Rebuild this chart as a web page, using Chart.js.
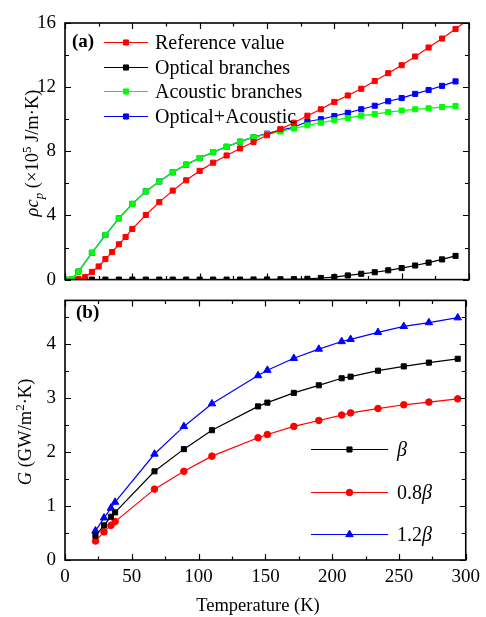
<!DOCTYPE html>
<html>
<head>
<meta charset="utf-8">
<script src="https://cdn.jsdelivr.net/npm/chart.js@4.4.0/dist/chart.umd.min.js"></script>
<style>
  html, body { margin: 0; padding: 0; background: #fff; }
  #wrap { position: relative; width: 486px; height: 617px; }
  #wrap canvas { position: absolute; left: 0; }
  #heat { top: 0; }
  #cond { top: 280px; }
</style>
</head>
<body>
<div id="wrap">
  <canvas id="heat" width="486" height="300"></canvas>
  <canvas id="cond" width="486" height="337"></canvas>
</div>
<script>
// (a) volumetric heat capacity, 10^5 J/m^3K
const tempRef = [10, 15, 20, 25, 30, 35, 40, 45, 50, 60, 70, 80, 90, 100, 110, 120, 130, 140, 150,
  160, 170, 180, 190, 200, 210, 220, 230, 240, 250, 260, 270, 280, 290, 300];
const cpRef = [0.04, 0.16, 0.48, 0.82, 1.28, 1.72, 2.2, 2.66, 3.16, 4.03, 4.83, 5.55, 6.19, 6.78, 7.29, 7.74, 8.18, 8.58, 9.0,
  9.38, 9.78, 10.22, 10.62, 11.08, 11.48, 11.9, 12.38, 12.87, 13.37, 13.91, 14.47, 15.03, 15.63, 16.25];

const tempOpt = [10, 20, 30, 40, 50, 60, 70, 80, 90, 100, 110, 120, 130, 140, 150,
  160, 170, 180, 190, 200, 210, 220, 230, 240, 250, 260, 270, 280, 290];
const cpOpt = [0, 0, 0, 0, 0, 0, 0, 0, 0, 0, 0, 0, 0, 0.01, 0.01,
  0.02, 0.03, 0.05, 0.1, 0.16, 0.26, 0.36, 0.46, 0.58, 0.72, 0.88, 1.06, 1.26, 1.48];

const tempAco = [0, 5, 10, 20, 30, 40, 50, 60, 70, 80, 90, 100, 110, 120, 130, 140, 150,
  160, 170, 180, 190, 200, 210, 220, 230, 240, 250, 260, 270, 280, 290];
const cpAco = [0, 0.03, 0.5, 1.67, 2.78, 3.82, 4.72, 5.5, 6.12, 6.69, 7.17, 7.58, 7.95, 8.28, 8.6, 8.88, 9.06,
  9.24, 9.42, 9.62, 9.78, 9.94, 10.08, 10.22, 10.32, 10.44, 10.54, 10.62, 10.68, 10.76, 10.82];
// optical + acoustic, sampled at the acoustic temperatures
const cpSum = [0, 0.03, 0.5, 1.67, 2.78, 3.82, 4.72, 5.5, 6.12, 6.69, 7.17, 7.58, 7.95, 8.28, 8.6, 8.88, 9.1,
  9.32, 9.5, 9.86, 10.0, 10.2, 10.4, 10.62, 10.84, 11.12, 11.32, 11.58, 11.82, 12.08, 12.36];

const heatLabels = ['Reference value', 'Optical branches', 'Acoustic branches', 'Optical+Acoustic'];

// (b) interfacial thermal conductance, GW/m^2K
const tempG = [22.8, 29.2, 34.4, 37.5, 67, 89, 110, 144.5, 151.5, 171.3, 190, 207.1, 213.8, 234.3, 253.6, 272.4, 294];
const gBeta = [0.45, 0.64, 0.8, 0.88, 1.64, 2.05, 2.4, 2.84, 2.91, 3.09, 3.23, 3.36, 3.39, 3.5, 3.58, 3.65, 3.72];
const g08 = [0.35, 0.52, 0.64, 0.71, 1.31, 1.64, 1.92, 2.26, 2.32, 2.47, 2.58, 2.68, 2.72, 2.8, 2.87, 2.92, 2.98];
const g12 = [0.54, 0.78, 0.96, 1.07, 1.96, 2.47, 2.89, 3.41, 3.51, 3.73, 3.9, 4.04, 4.08, 4.21, 4.32, 4.39, 4.48];

const condLabels = ['β', '0.8β', '1.2β'];

const SERIF = '"Liberation Serif", "Times New Roman", serif';
const pts = (xs, ys) => xs.map((x, i) => ({x: x, y: ys[i]}));

// draw a run of text pieces: [text, font, dy]
function drawParts(ctx, parts, x, y, align) {
  let w = 0;
  parts.forEach(p => { ctx.font = p[1]; w += ctx.measureText(p[0]).width; });
  let cx = align === 'center' ? x - w / 2 : x;
  parts.forEach(p => {
    ctx.font = p[1];
    ctx.fillText(p[0], cx, y + (p[2] || 0));
    cx += ctx.measureText(p[0]).width;
  });
}

// β is always set in italics
function richLabel(s, size) {
  const out = [];
  s.split(/(β)/).forEach(t => {
    if (!t) return;
    out.push([t, (t === 'β' ? 'italic ' : '') + size + 'px ' + SERIF]);
  });
  return out;
}

// frame, inward ticks, legend, axis titles and panel tag
const panelDecor = {
  id: 'panelDecor',
  afterDraw(chart, args, o) {
    const ctx = chart.ctx, a = chart.chartArea;
    const xs = chart.scales.x, ys = chart.scales.y;
    ctx.save();
    ctx.strokeStyle = '#000';
    ctx.fillStyle = '#000';
    ctx.lineWidth = 1.2;
    ctx.beginPath();
    for (let v = xs.min; v <= xs.max + 1e-9; v += o.xMinor) {
      const p = Math.round(xs.getPixelForValue(v)) + 0.5;
      const len = Math.abs(v % o.xMajor) < 1e-9 ? 6 : 3.5;
      ctx.moveTo(p, a.bottom); ctx.lineTo(p, a.bottom - len);
      ctx.moveTo(p, a.top); ctx.lineTo(p, a.top + len);
    }
    for (let v = ys.min; v <= ys.max + 1e-9; v += o.yMinor) {
      const p = Math.round(ys.getPixelForValue(v)) + 0.5;
      const len = Math.abs(v % o.yMajor) < 1e-9 ? 6 : 4;
      ctx.moveTo(a.left, p); ctx.lineTo(a.left + len, p);
      ctx.moveTo(a.right, p); ctx.lineTo(a.right - len, p);
    }
    ctx.stroke();
    ctx.lineWidth = 1.6;
    ctx.strokeRect(a.left, a.top, a.right - a.left, a.bottom - a.top);

    // legend rows
    const lg = o.legend;
    chart.data.datasets.forEach((ds, i) => {
      const y = Math.round(lg.y0 + i * lg.dy) + 0.5;
      ctx.strokeStyle = ds.borderColor;
      ctx.fillStyle = ds.borderColor;
      ctx.lineWidth = 1;
      ctx.beginPath();
      ctx.moveTo(lg.x0, y); ctx.lineTo(lg.x1, y);
      ctx.stroke();
      Chart.helpers.drawPoint(ctx, {pointStyle: ds.pointStyle, radius: ds.pointRadius, rotation: 0, borderWidth: 1},
        (lg.x0 + lg.x1) / 2, y);
      ctx.fillStyle = '#000';
      ctx.textBaseline = 'middle';
      drawParts(ctx, richLabel(ds.label, lg.size), lg.tx, y + 1, 'left');
    });

    // panel tag
    ctx.font = 'bold 19px ' + SERIF;
    ctx.textBaseline = 'middle';
    ctx.fillText(o.tag[0], o.tag[1], o.tag[2]);

    // x axis title
    if (o.xTitle) {
      ctx.font = '18.5px ' + SERIF;
      ctx.textAlign = 'center';
      ctx.fillText(o.xTitle[0], o.xTitle[1], o.xTitle[2]);
      ctx.textAlign = 'left';
    }

    // y axis title, reading bottom to top
    ctx.translate(o.titleX, o.titleY);
    ctx.rotate(-Math.PI / 2);
    ctx.textBaseline = 'alphabetic';
    drawParts(ctx, o.title, 0, 0, 'center');
    ctx.restore();
  }
};

function options(cfg) {
  return {
    responsive: false,
    animation: false,
    devicePixelRatio: 1,
    events: [],
    layout: {padding: {left: 0, right: 17, top: cfg.padTop, bottom: 0}},
    plugins: {legend: {display: false}, tooltip: {enabled: false}, panelDecor: cfg.decor},
    scales: {
      x: {
        type: 'linear', min: 0, max: 300,
        grid: {display: false, drawTicks: false},
        border: {display: false},
        ticks: {display: cfg.xLabels, stepSize: 50, padding: 6, maxRotation: 0, color: '#000',
          font: {family: SERIF, size: 19}},
        afterFit: s => { s.height = cfg.xHeight; }
      },
      y: {
        min: 0, max: cfg.yMax,
        grid: {display: false, drawTicks: false},
        border: {display: false},
        ticks: {stepSize: cfg.yStep, includeBounds: false, padding: 9, color: '#000',
          font: {family: SERIF, size: 19}},
        afterFit: s => { s.width = 65; }
      }
    }
  };
}

function series(label, xs, ys, color, style, r) {
  return {
    label: label, data: pts(xs, ys),
    borderColor: color, backgroundColor: color,
    pointBackgroundColor: color, pointBorderColor: color,
    borderWidth: 1.2, pointStyle: style, pointRadius: r, pointBorderWidth: 1
  };
}

const it = s => 'italic ' + s + 'px ' + SERIF;
const rm = s => s + 'px ' + SERIF;

new Chart(document.getElementById('heat'), {
  type: 'line',
  data: {
    datasets: [
      series(heatLabels[0], tempRef, cpRef, '#ff0000', 'rect', 3.6),
      series(heatLabels[1], tempOpt, cpOpt, '#000000', 'rect', 3.6),
      series(heatLabels[2], tempAco, cpAco, '#00ff00', 'rect', 3.6),
      series(heatLabels[3], tempAco, cpSum, '#0000ff', 'rect', 3.6)
    ]
  },
  options: options({
    padTop: 23, xHeight: 10, xLabels: false, yMax: 16, yStep: 4,
    decor: {
      xMinor: 25, xMajor: 50, yMinor: 2, yMajor: 4,
      legend: {x0: 104, x1: 148, tx: 155, y0: 42, dy: 24.5, size: 20},
      tag: ['(a)', 72, 42],
      titleX: 38, titleY: 153,
      title: [['ρc', it(18.5)], ['p', it(13), 5], [' (×10', rm(18.5)], ['5', rm(13), -7], [' J/m·K)', rm(18.5)]]
    }
  }),
  plugins: [panelDecor]
});

new Chart(document.getElementById('cond'), {
  type: 'line',
  data: {
    datasets: [
      series(condLabels[0], tempG, gBeta, '#000000', 'rect', 3.6),
      series(condLabels[1], tempG, g08, '#ff0000', 'circle', 3.3),
      series(condLabels[2], tempG, g12, '#0000ff', 'triangle', 4.3)
    ]
  },
  options: options({
    padTop: 11, xHeight: 57, xLabels: true, yMax: 4.8, yStep: 1,
    decor: {
      xMinor: 25, xMajor: 50, yMinor: 0.5, yMajor: 1,
      legend: {x0: 311, x1: 388, tx: 397, y0: 169, dy: 42.5, size: 20},
      tag: ['(b)', 76, 33],
      xTitle: ['Temperature (K)', 258, 326],
      titleX: 31, titleY: 152,
      title: [['G', it(18.5)], [' (GW/m', rm(18.5)], ['2', rm(13), -7], ['·K)', rm(18.5)]]
    }
  }),
  plugins: [panelDecor]
});
</script>
</body>
</html>
